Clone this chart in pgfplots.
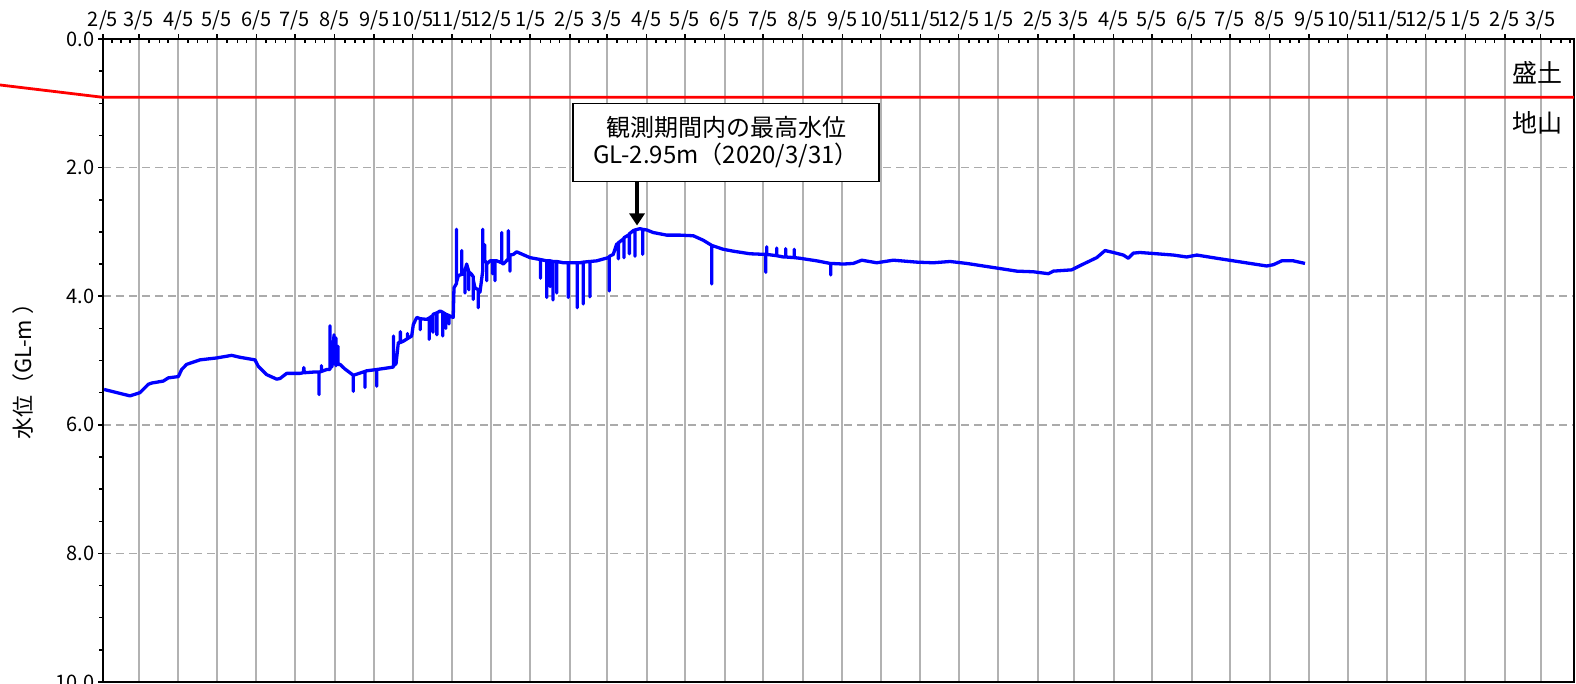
\documentclass[border=0pt]{standalone}
\usepackage{fontspec}
\setmainfont{Noto Sans CJK JP}
\usepackage{pgfplots}
\usepackage{pgfplotstable}
\pgfplotsset{compat=1.18}
\usetikzlibrary{arrows.meta}

\pgfplotstableread{
day val
0.8 5.45
21.1 5.55
28.9 5.50
35.4 5.37
38.1 5.35
47.1 5.32
51.1 5.27
58.9 5.25
61.5 5.14
65.4 5.06
75.8 4.99
88.9 4.96
100.6 4.92
107.1 4.95
118.8 4.99
121.4 5.09
128.0 5.22
135.8 5.29
138.4 5.28
143.6 5.20
154.0 5.20
156.6 5.19
157.0 5.11
157.4 5.19
164.4 5.18
168.9 5.18
168.9 5.53
168.9 5.18
170.8 5.17
170.8 5.08
170.8 5.17
174.9 5.14
177.5 5.14
177.5 4.46
177.5 5.10
179.0 4.72
179.0 5.10
180.6 4.60
180.6 5.05
182.2 4.65
182.2 5.08
183.7 4.78
183.7 5.06
185.3 5.06
189.0 5.13
195.7 5.23
195.7 5.48
195.7 5.23
204.8 5.17
204.8 5.42
204.8 5.17
206.2 5.16
214.0 5.14
214.0 5.40
214.0 5.14
224.4 5.11
227.1 5.10
227.1 4.62
227.1 5.08
229.1 5.05
230.9 4.72
232.5 4.72
232.5 4.55
232.5 4.72
234.8 4.70
238.0 4.66
238.0 4.58
238.0 4.66
241.3 4.62
242.6 4.44
245.3 4.33
248.0 4.35
248.0 4.52
248.0 4.35
253.1 4.36
255.0 4.34
255.0 4.67
255.0 4.34
257.9 4.30
257.9 4.56
257.9 4.30
258.2 4.28
261.0 4.26
261.0 4.60
261.0 4.26
263.5 4.23
265.6 4.25
265.6 4.62
265.6 4.25
268.0 4.28
268.0 4.50
268.0 4.28
270.5 4.30
270.5 4.43
270.5 4.30
271.3 4.31
273.8 4.33
274.4 3.87
276.4 3.80
276.4 2.96
276.4 3.78
277.8 3.68
280.4 3.66
280.4 3.29
280.4 3.66
281.7 3.66
283.0 3.60
283.0 3.95
283.0 3.60
284.3 3.50
286.0 3.62
286.0 3.90
286.0 3.62
288.2 3.66
289.5 3.70
289.5 4.05
289.5 3.75
290.8 3.87
293.4 3.90
293.4 4.18
293.4 3.94
294.7 3.94
296.9 3.60
296.9 2.96
296.9 3.45
297.3 3.45
298.5 3.45
298.5 3.20
298.5 3.45
300.0 3.48
300.0 3.76
300.0 3.50
302.6 3.45
304.5 3.45
304.5 3.65
304.5 3.45
306.5 3.45
306.5 3.76
306.5 3.45
307.8 3.45
311.7 3.48
311.7 3.01
311.7 3.48
313.0 3.50
316.9 3.42
316.9 2.98
316.9 3.40
318.2 3.38
318.2 3.61
318.2 3.36
320.8 3.35
323.4 3.31
333.8 3.40
342.0 3.43
342.0 3.72
342.0 3.43
346.9 3.45
346.9 4.02
346.9 3.45
349.5 3.45
349.5 3.85
349.5 3.45
351.8 3.46
351.8 4.06
351.8 3.46
354.7 3.46
354.7 3.95
354.7 3.46
359.9 3.48
363.8 3.48
363.8 4.02
363.8 3.48
370.8 3.48
370.8 4.18
370.8 3.48
372.9 3.48
375.5 3.47
375.5 4.12
375.5 3.47
380.7 3.46
380.7 4.01
380.7 3.46
386.0 3.45
395.0 3.40
395.8 3.40
395.8 3.92
395.8 3.38
398.9 3.35
401.6 3.19
402.9 3.18
402.9 3.42
402.9 3.17
406.8 3.11
407.3 3.10
407.3 3.40
407.3 3.09
411.5 3.04
411.5 3.34
411.5 3.03
414.6 2.98
415.9 2.97
415.9 3.38
415.9 2.97
419.8 2.95
421.9 2.96
421.9 3.35
421.9 2.96
425.1 2.97
430.2 3.01
440.7 3.05
451.1 3.05
461.5 3.06
469.3 3.13
475.9 3.21
475.9 3.81
475.9 3.21
484.9 3.27
492.8 3.30
505.8 3.34
518.2 3.35
518.2 3.63
518.2 3.35
518.9 3.35
518.9 3.23
518.9 3.35
526.7 3.37
526.7 3.25
526.7 3.37
531.9 3.39
533.7 3.39
533.7 3.26
533.7 3.39
540.4 3.40
540.4 3.27
540.4 3.40
544.9 3.41
558.0 3.45
568.4 3.49
569.0 3.49
569.0 3.67
569.0 3.49
578.8 3.50
586.6 3.49
593.2 3.44
604.9 3.48
617.9 3.44
636.1 3.47
649.1 3.48
662.2 3.46
675.2 3.49
688.2 3.53
701.3 3.57
714.3 3.61
727.3 3.62
739.1 3.65
743.0 3.61
757.3 3.59
766.4 3.50
776.9 3.40
783.4 3.29
789.9 3.32
797.7 3.36
801.6 3.41
805.5 3.33
810.7 3.32
823.8 3.34
836.8 3.36
847.2 3.39
855.1 3.36
870.7 3.41
883.7 3.45
896.7 3.49
909.8 3.53
915.0 3.51
921.5 3.45
930.6 3.45
939.7 3.49
}\level

\begin{document}
\begin{tikzpicture}
\begin{axis}[
  at={(103pt,-39pt)}, anchor=north west,
  scale only axis, width=1471pt, height=643pt,
  xmin=0, xmax=1150, ymin=0, ymax=10, y dir=reverse,
  clip=false,
  xtick={0,28,59,89,120,150,181,212,242,273,303,334,365,394,425,455,486,516,547,578,608,639,669,700,731,759,790,820,851,881,912,943,973,1004,1034,1065,1096,1124},
  xticklabels={2/5,3/5,4/5,5/5,6/5,7/5,8/5,9/5,10/5,11/5,12/5,1/5,2/5,3/5,4/5,5/5,6/5,7/5,8/5,9/5,10/5,11/5,12/5,1/5,2/5,3/5,4/5,5/5,6/5,7/5,8/5,9/5,10/5,11/5,12/5,1/5,2/5,3/5},
  minor xtick={7,14,21,36,44,51,66.5,74,81.5,97,105,112,127.5,135,142.5,158,166,173,189,197,204,219.5,227,234.5,250,258,265,280.5,288,295.5,311,319,326,342,350,357,372,379.5,387,402,410,417,432.5,440,447.5,463,471,478,493.5,501,508.5,524,532,539,555,563,570,585.5,593,600.5,616,624,631,646.5,654,661.5,677,685,692,708,716,723,738,745,752,767,775,782,797.5,805,812.5,828,836,843,858.5,866,873.5,889,897,904,920,928,935,950.5,958,965.5,981,989,996,1011.5,1019,1026.5,1042,1050,1057,1073,1081,1088,1103,1110,1117,1132,1140,1147},
  ytick={0,2,4,6,8,10},
  minor ytick={0.5,1,1.5,2.5,3,3.5,4.5,5,5.5,6.5,7,7.5,8.5,9,9.5},
  xtick pos=right, xticklabel pos=right,
  ytick pos=left,
  tick align=outside,
  major tick length=5pt, minor tick length=4pt,
  minor x tick style={yshift=-4pt},
  tick style={black, line width=1.5pt},
  axis line style={line width=2pt},
  xmajorgrids, ymajorgrids,
  x grid style={black!30, line width=2pt},
  y grid style={black!33, line width=1.5pt, dash pattern=on 8pt off 5pt},
  ticklabel style={font=\fontsize{20}{24}\selectfont},
  /pgf/number format/assume math mode=true,
  yticklabel style={/pgf/number format/.cd, fixed, fixed zerofill, precision=1},
  ylabel={水位（GL-m ）},
  ylabel style={font=\fontsize{22}{26}\selectfont, at={(axis description cs:-0.0544,0.491)}, anchor=center},
]
\addplot[red, line width=2.8pt] coordinates {(-80.5,0.715) (0,0.907) (1150,0.907)};
\addplot[blue, line width=3.3pt, line join=round] table[x=day, y=val] {\level};
\node[draw=black, line width=1.5pt, fill=white, minimum width=306pt, minimum height=78pt, inner sep=0pt, align=center, font=\fontsize{24}{27}\selectfont] at (axis cs:487.1,1.61) {観測期間内の最高水位\\GL-2.95m（2020/3/31）};
\draw[line width=4pt, -{Triangle[width=15pt,length=12pt]}] (axis cs:417.5,2.22) -- (axis cs:417.5,2.90);
\node[anchor=east, font=\fontsize{25}{28}\selectfont, inner sep=0pt] at (axis cs:1141.4,0.52) {盛土};
\node[anchor=east, font=\fontsize{25}{28}\selectfont, inner sep=0pt] at (axis cs:1141.4,1.30) {地山};
\end{axis}
\pgfresetboundingbox
\useasboundingbox (0,0) rectangle (1576pt,-684pt);
\end{tikzpicture}
\end{document}
